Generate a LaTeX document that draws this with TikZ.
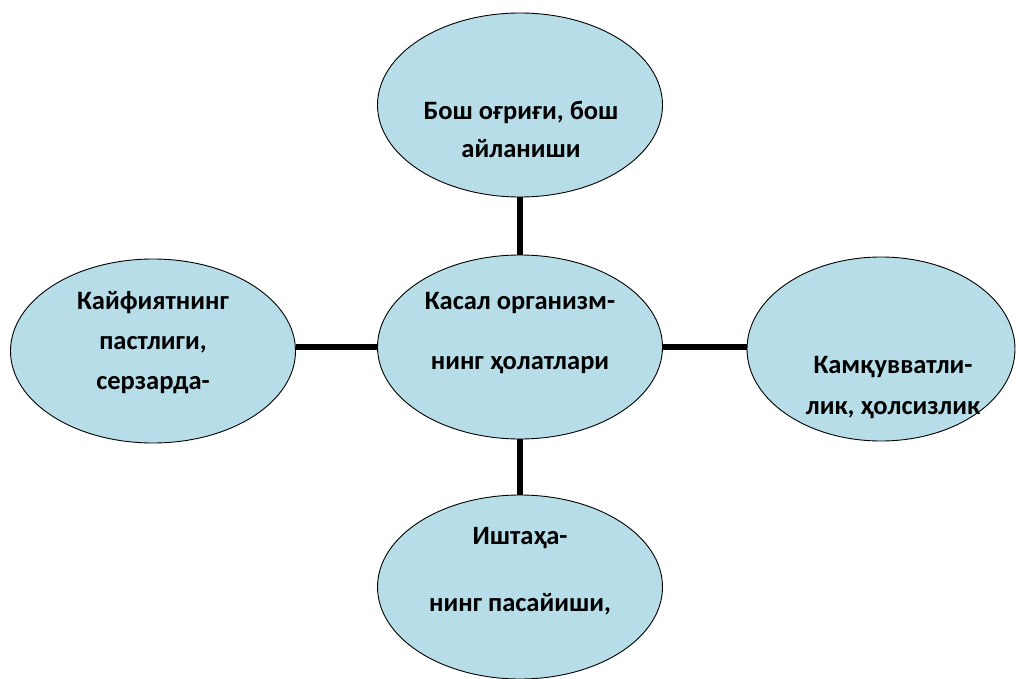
\documentclass[tikz,border=0pt]{standalone}
\usepackage{fontspec}
\setmainfont{Carlito}
\usepackage{tikz}
\usetikzlibrary{shapes.geometric,calc}
\definecolor{ovalfill}{HTML}{B7DEE8}

\begin{document}
\begin{tikzpicture}[x=1pt,y=-1pt,
  oval/.style={ellipse, draw=black, line width=0.9pt, fill=ovalfill,
    minimum width=285pt, minimum height=184pt, inner sep=0pt, outer sep=0pt},
  ovaltext/.style={align=center, font=\bfseries\fontsize{26.5}{#1}\selectfont},
  link/.style={line width=5.5pt, black}]
  \useasboundingbox (0,0) rectangle (1019,679);

  % ellipses
  \node[oval] (centre) at (520,347) {};
  \node[oval] (headache) at (520,105) {};
  \node[oval] (mood) at (153,351) {};
  \node[oval, minimum width=268pt] (weak) at (881,349) {};
  \node[oval] (appetite) at (520,587) {};

  % connectors
  \draw[link] (headache.south) -- (centre.north);
  \draw[link] (centre.south) -- (appetite.north);
  \draw[link] (centre.west) -- (centre.west -| mood.east);
  \draw[link] (centre.east) -- (centre.east -| weak.west);

  % texts
  \node[ovaltext=38pt] (headachetxt) at (521,129) {Бош оғриғи, бош\\айланиши};
  \node[ovaltext=60pt] (centretxt) at (520,333) {Касал организм-\\нинг ҳолатлари};
  \node[ovaltext=40pt] (moodtxt) at (153,343) {Кайфиятнинг\\пастлиги,\\серзарда-};
  \node[ovaltext=41pt] (weaktxt) at (893,388) {Камқувватли-\\лик, ҳолсизлик};
  \node[ovaltext=67pt] (appetitetxt) at (520,571) {Иштаҳа-\\нинг пасайиши,};
\end{tikzpicture}
\end{document}
